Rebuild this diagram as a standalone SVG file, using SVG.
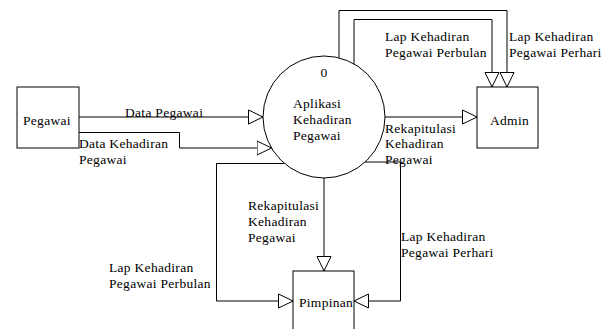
<svg xmlns="http://www.w3.org/2000/svg" width="616" height="329" viewBox="0 0 616 329">
  <defs>
    <!-- open triangular arrowhead used by every data flow -->
    <marker id="arrow" viewBox="0 0 16 16" refX="15" refY="8" markerWidth="16" markerHeight="16" markerUnits="userSpaceOnUse" orient="auto">
      <path d="M0.5,1 L15,8 L0.5,15 Z" fill="#fff" stroke="#000" stroke-width="1"/>
    </marker>
  </defs>
  <style>
    .entity { fill: #fff; stroke: #000; stroke-width: 1; }
    .process { fill: #fff; stroke: #000; stroke-width: 1; }
    .flow { fill: none; stroke: #000; stroke-width: 1; marker-end: url(#arrow); }
    text { font-family: "Liberation Serif", "Times New Roman", serif; font-size: 13.5px; letter-spacing: 0.3px; fill: #000; }
  </style>
  <rect width="616" height="329" fill="#fff"/>

  <!-- data flows -->
  <g id="connectors">
    <path class="flow" d="M79,117 H263"/>
    <path class="flow" d="M79,132.5 H179.5 V148 H271.5"/>
    <path class="flow" d="M339,58 V10.5 H507 V87"/>
    <path class="flow" d="M354,64 V19.5 H492 V87"/>
    <path class="flow" d="M385,117 H477"/>
    <path class="flow" d="M324,178 V271"/>
    <path class="flow" d="M284,163.5 H216.5 V301 H293"/>
    <path class="flow" d="M365,162 H400.5 V301 H354"/>
  </g>

  <!-- flow labels -->
  <g id="labels">
    <text x="125" y="117">Data Pegawai</text>
    <text x="79" y="148">Data Kehadiran</text>
    <text x="79" y="164">Pegawai</text>
    <text x="385" y="41">Lap Kehadiran</text>
    <text x="385" y="57">Pegawai Perbulan</text>
    <text x="509" y="41">Lap Kehadiran</text>
    <text x="509" y="57">Pegawai Perhari</text>
    <text x="385" y="132.5">Rekapitulasi</text>
    <text x="385" y="148">Kehadiran</text>
    <text x="385" y="163.5">Pegawai</text>
    <text x="248" y="210">Rekapitulasi</text>
    <text x="248" y="226">Kehadiran</text>
    <text x="248" y="242">Pegawai</text>
    <text x="109" y="272">Lap Kehadiran</text>
    <text x="109" y="288">Pegawai Perbulan</text>
    <text x="401" y="241">Lap Kehadiran</text>
    <text x="401" y="257">Pegawai Perhari</text>
  </g>

  <g id="pegawai">
    <rect class="entity" x="17" y="87" width="62" height="61"/>
    <text x="23" y="125">Pegawai</text>
  </g>

  <g id="admin">
    <rect class="entity" x="477" y="87" width="61" height="61"/>
    <text x="490" y="125">Admin</text>
  </g>

  <g id="pimpinan">
    <rect class="entity" x="293" y="271" width="61" height="61"/>
    <text x="299" y="307">Pimpinan</text>
  </g>

  <g id="process-0">
    <circle class="process" cx="324" cy="117" r="61"/>
    <text x="324" y="77" text-anchor="middle">0</text>
    <text x="293" y="108">Aplikasi</text>
    <text x="293" y="124">Kehadiran</text>
    <text x="293" y="140">Pegawai</text>
  </g>
</svg>
